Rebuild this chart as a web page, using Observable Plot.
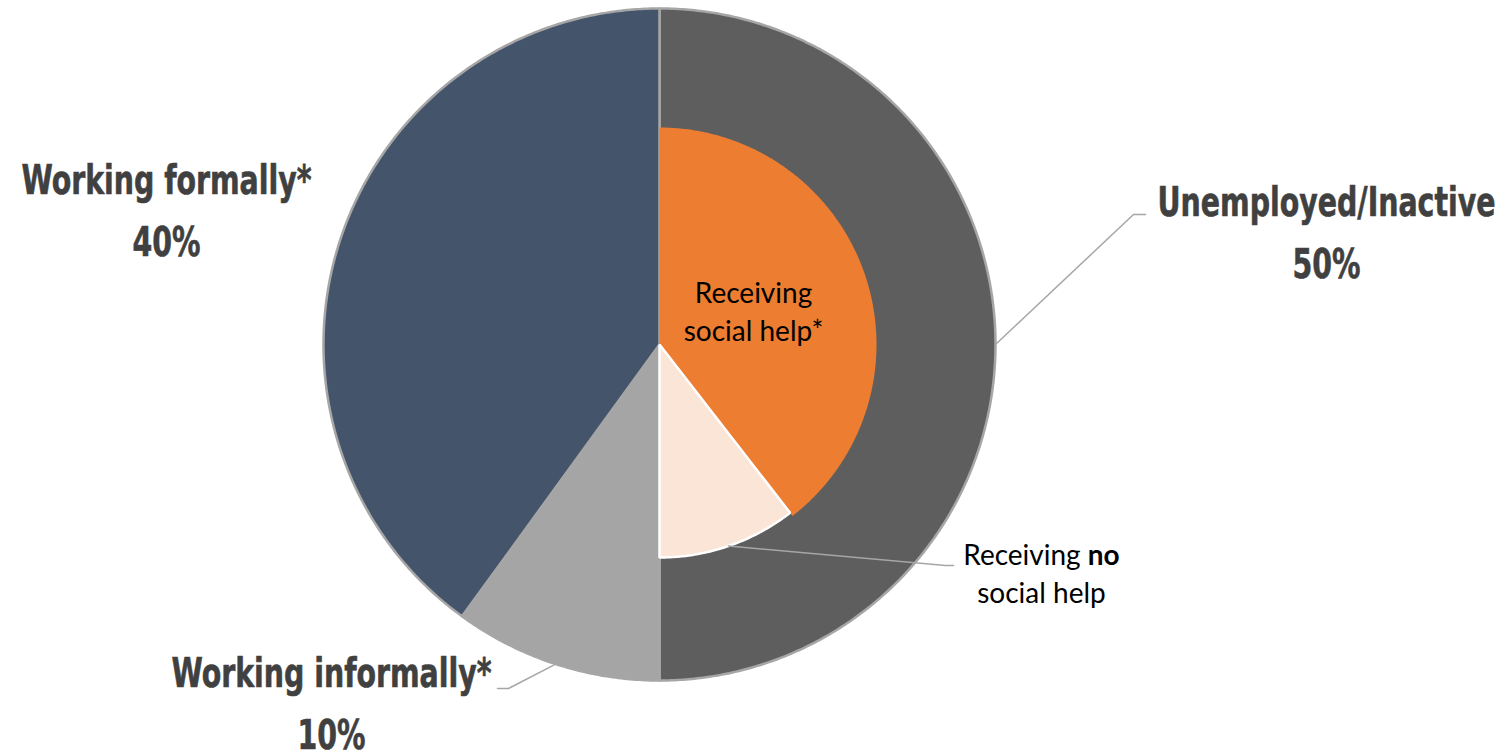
<!DOCTYPE html>
<html><head><meta charset="utf-8">
<script src="https://cdn.jsdelivr.net/npm/d3@7"></script>
<script src="https://cdn.jsdelivr.net/npm/@observablehq/plot@0.6"></script>
<style>body{margin:0;background:#fff;overflow:hidden}</style>
</head><body><div id="chart"></div>
<script>
// ---- data ----
const outerCategories = ["Unemployed/Inactive", "Working informally*", "Working formally*"];
const outerValues = [50, 10, 40];
const outerColors = ["#5E5E5E", "#A5A5A5", "#44546A"];
const innerCategories = ["Receiving social help*", "Receiving no social help"];
const innerValues = [39.5, 10.5];
const innerColors = ["#ED7D31", "#FBE5D6"];

// ---- layout ----
const W = 1509, H = 756, CX = 659, CY = 344, R = 336;
const innerRadii = [217, 213];
const deg = Math.PI / 180;

function slices(values) {
  const total = 100;
  let acc = 0;
  return values.map(v => { const a0 = acc / total * 360; acc += v; return [a0, acc / total * 360]; });
}
function arcPoly(name, a0, a1, r, fill) {
  const pts = [{slice: name, x: 0, y: 0, fill}];
  const n = Math.max(2, Math.ceil((a1 - a0) / 0.5));
  for (let i = 0; i <= n; i++) {
    const a = (a0 + (a1 - a0) * i / n) * deg;
    pts.push({slice: name, x: r * Math.sin(a), y: r * Math.cos(a), fill});
  }
  return pts;
}
const outerAngles = slices(outerValues);
const innerAngles = slices(innerValues);
const outerPts = outerCategories.flatMap((c, i) => arcPoly(c, outerAngles[i][0], outerAngles[i][1], R, outerColors[i]));
const innerPts = innerCategories.flatMap((c, i) => arcPoly(c, innerAngles[i][0], innerAngles[i][1], innerRadii[i], innerColors[i]));
const mid = (a, r) => { const m = (a[0] + a[1]) / 2 * deg; return [r * Math.sin(m), r * Math.cos(m)]; };

// big labels (positions relative to center, y up)
const bigLabelPos = [[1326 - CX, CY - 227], [331 - CX, CY - 698], [166 - CX, CY - 205]];
const bigLabels = outerCategories.map((c, i) => ({text: `${c}\n${outerValues[i]}%`, x: bigLabelPos[i][0], y: bigLabelPos[i][1]}));

// leader lines
const leaders = [];
{
  const s = mid(outerAngles[0], R);
  [[s[0], s[1]], [1133 - CX, CY - 214], [1145 - CX, CY - 214]].forEach(p => leaders.push({id: 0, x: p[0], y: p[1]}));
  const s2 = mid(outerAngles[1], R);
  [[s2[0], s2[1]], [508 - CX, CY - 688], [497 - CX, CY - 688]].forEach(p => leaders.push({id: 1, x: p[0], y: p[1]}));
  const s3 = mid(innerAngles[1], innerRadii[1]);
  [[s3[0], s3[1]], [945 - CX, CY - 565], [953 - CX, CY - 565]].forEach(p => leaders.push({id: 2, x: p[0], y: p[1]}));
}
const innerLabelPos = [[753 - CX, CY - 309], [1041 - CX, CY - 571]];
const innerLabelText = ["Receiving\nsocial help*", "Receiving no\nsocial help"];
const innerLabels = innerLabelText.map((t, i) => ({text: t, x: innerLabelPos[i][0], y: innerLabelPos[i][1]}));

const bigFont = "'Liberation Sans Narrow', 'DejaVu Sans Condensed', 'Arial Narrow', sans-serif";
const smallFont = "Lato, Carlito, Calibri, sans-serif";

const chart = Plot.plot({
  width: W, height: H,
  marginTop: 0, marginRight: 0, marginBottom: 0, marginLeft: 0,
  x: {domain: [-CX, W - CX], axis: null},
  y: {domain: [CY - H, CY], axis: null},
  color: {type: "identity"},
  style: {background: "#fff"},
  marks: [
    Plot.line(outerPts, {x: "x", y: "y", z: "slice", fill: "fill", stroke: "#A6A6A6", strokeWidth: 2.5, strokeLinejoin: "round", curve: "linear-closed"}),
    Plot.line(innerPts.filter(d => d.slice === innerCategories[0]), {x: "x", y: "y", z: "slice", fill: "fill", stroke: "none", curve: "linear-closed"}),
    Plot.line(innerPts.filter(d => d.slice === innerCategories[1]), {x: "x", y: "y", z: "slice", fill: "fill", stroke: "#FFFFFF", strokeWidth: 2.5, strokeLinejoin: "miter", curve: "linear-closed"}),
    Plot.line(leaders, {x: "x", y: "y", z: "id", stroke: "#A6A6A6", strokeWidth: 1.5}),
    Plot.text(bigLabels, {x: "x", y: "y", text: "text", fontSize: 41, fontWeight: "bold", fontFamily: bigFont, fill: "#404040", stroke: "#404040", strokeWidth: 0.6, lineHeight: 1.5, className: "big-label"}),
    Plot.text(innerLabels, {x: "x", y: "y", text: "text", fontSize: 28, fontFamily: smallFont, fill: "#000000", lineHeight: 1.36})
  ]
});
document.getElementById("chart").appendChild(chart);
d3.select(chart).selectAll("tspan").each(function() {
  if (this.textContent === "Receiving no") {
    const el = d3.select(this);
    el.text("Receiving ");
    el.append("tspan").attr("font-weight", "bold").text("no");
  }
});
// condense the bold labels horizontally (no condensed bold face installed)
d3.select(chart).selectAll("g.big-label text").each(function() {
  const t = this.getAttribute("transform") || "";
  this.setAttribute("transform", t + " scale(0.77,1)");
});
</script>
</body></html>
